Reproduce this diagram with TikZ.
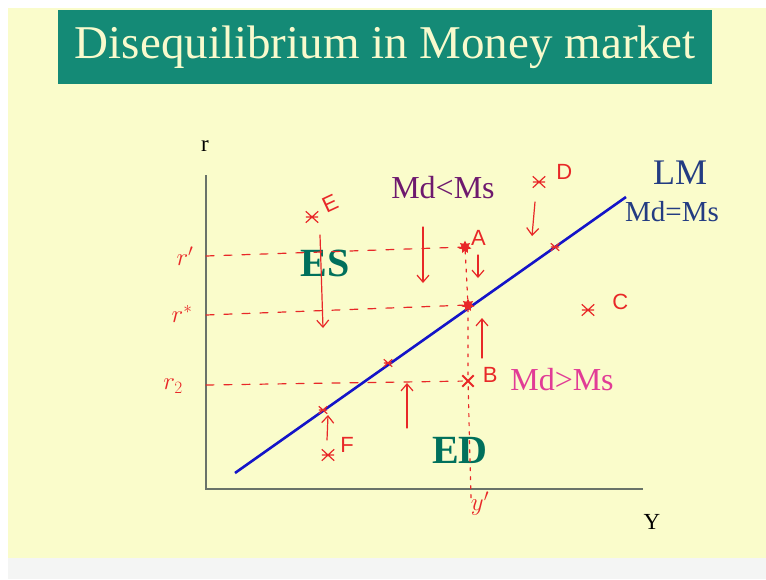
\documentclass[tikz,border=0pt]{standalone}
\usepackage{fontspec}
\setmainfont{Liberation Serif}
\setsansfont{Liberation Sans}
\usetikzlibrary{arrows.meta, positioning, shapes.geometric}
\definecolor{slidebg}{RGB}{250,252,203}
\definecolor{stripgrey}{RGB}{244,245,244}
\definecolor{titleteal}{RGB}{20,138,118}
\definecolor{titletext}{RGB}{248,250,205}
\definecolor{axisgrey}{RGB}{105,115,105}
\definecolor{lmblue}{RGB}{20,20,200}
\definecolor{lmtext}{RGB}{35,60,130}
\definecolor{mdpurple}{RGB}{110,25,110}
\definecolor{mdpink}{RGB}{225,60,150}
\definecolor{esteal}{RGB}{0,112,92}
\definecolor{pen}{RGB}{232,40,40}

\begin{document}
\begin{tikzpicture}[x=1pt, y=-1pt,
  hand/.style={draw=pen, line width=1.2pt, line cap=round},
  guide/.style={hand, dash pattern=on 8pt off 10pt},
  drop/.style={hand, dash pattern=on 3pt off 6pt},
  ar/.style={hand, -{Straight Barb[length=7pt, width=12pt]}},
  ast/.style={rectangle, minimum width=12pt, minimum height=11pt, inner sep=0pt},
  tick/.style={ast, minimum width=8pt, minimum height=7pt},
  blot/.style={star, star points=7, star point ratio=1.8, fill=pen, minimum size=13pt, inner sep=0pt},
  lbl/.style={text=pen, font=\sffamily\fontsize{22}{22}\selectfont, inner sep=0pt},
  lvl/.style={text=pen, font=\fontsize{24}{24}\selectfont, inner sep=0pt},
  big/.style={font=\bfseries\fontsize{40}{40}\selectfont, text=esteal, inner sep=0pt},
  md/.style={font=\fontsize{32}{32}\selectfont, inner sep=0pt}]
\useasboundingbox (0,0) rectangle (766,579);
% slide
\fill[white] (0,0) rectangle (766,579);
\fill[slidebg] (8,8) rectangle (766,558);
\fill[stripgrey] (8,558) rectangle (766,579);
\node[fill=titleteal, text=titletext, minimum width=654pt, minimum height=74pt,
  inner sep=0pt, font=\fontsize{47}{47}\selectfont] (title) at (385,47) {Disequilibrium in Money market};

% axes
\coordinate (rtop) at (206,175);
\coordinate (O) at (206,489);
\coordinate (yend) at (643,489);
\draw[axisgrey, line width=1.2pt] (rtop) -- (O) -- (yend);
\node[font=\fontsize{23}{23}\selectfont] (rlab) at (205,146) {r};
\node[font=\fontsize{23}{23}\selectfont] (ylab) at (652,522) {Y};

% LM curve
\coordinate (lm0) at (235,473);
\coordinate (lm1) at (626,197);
\draw[lmblue, line width=2.6pt] (lm0) -- (lm1);
\node[text=lmtext, font=\fontsize{36}{36}\selectfont, inner sep=0pt] (lm) at (680,173) {LM};
\node[text=lmtext, font=\fontsize{29}{29}\selectfont, inner sep=0pt] (eq) at (672,212) {Md=Ms};
\node[md, text=mdpurple] (less) at (443,188) {Md<Ms};
\node[md, text=mdpink] (more) at (562,380) {Md>Ms};
\node[big] (es) at (325,263) {ES};
\node[big] (ed) at (460,450) {ED};

% rate levels
\coordinate (r1) at (206,256);
\coordinate (r0) at (206,315);
\coordinate (r2) at (206,385);
\node[lvl] (r1lab) at (185,256) {$r'$};
\node[lvl] (r0lab) at (182,314) {$r^{*}$};
\node[lvl] (r2lab) at (173,386) {$r_{2}$};

% points
\node[blot] (A) at (465,247) {};
\node[blot] (rs) at (468,305) {};
\node[ast, minimum size=11pt] (B) at (468,381) {};
\draw[pen, line width=2pt] (B.north west) -- (B.south east) (B.north east) -- (B.south west);
\node[ast] (E) at (312,217) {};
\node[ast] (D) at (539,182) {};
\node[ast] (C) at (588,310) {};
\node[ast] (F) at (328,455) {};
\node[tick] (t1) at (555,247) {};
\node[tick] (t2) at (388,363) {};
\node[tick] (t3) at (323,410) {};
\foreach \p in {E,D,C,F,t1,t2,t3}
  \draw[pen, line width=1.2pt] (\p.north west) -- (\p.south east)
    (\p.north east) -- (\p.south west) (\p.west) -- (\p.east);
\node[lbl, right=1pt of A, yshift=9pt] (Alab) {A};
\node[lbl, right=9pt of B, yshift=6pt] (Blab) {B};
\node[lbl, right=18pt of C, yshift=8pt] (Clab) {C};
\node[lbl, right=11pt of D, yshift=10pt] (Dlab) {D};
\node[lbl, right=5pt of E, yshift=10pt, rotate=25] (Elab) {E};
\node[lbl, right=6pt of F, yshift=10pt] (Flab) {F};
\coordinate (yp) at (471,498);
\node[lvl] (yplab) at (480,504) {$y'$};

% dashed guides
\draw[guide] (r1) -- (A);
\draw[guide] (r0) -- (rs);
\draw[guide] (r2) -- (B);
\draw[drop] (A) -- (rs) -- (B) -- (yp);

% adjustment arrows
\coordinate (es0) at (320,235);  \coordinate (es1) at (323,328);
\coordinate (ls0) at (423,227);  \coordinate (ls1) at (423,283);
\coordinate (a0) at (478,255);   \coordinate (a1) at (478,278);
\coordinate (d0) at (535,202);   \coordinate (d1) at (532,236);
\coordinate (b0) at (482,358);   \coordinate (b1) at (482,318);
\coordinate (m0) at (407,428);   \coordinate (m1) at (407,383);
\coordinate (f0) at (327,440);   \coordinate (f1) at (328,415);
\draw[ar] (es0) -- (es1);
\draw[ar] (ls0) -- (ls1);
\draw[ar] (a0) -- (a1);
\draw[ar] (d0) -- (d1);
\draw[ar] (b0) -- (b1);
\draw[ar] (m0) -- (m1);
\draw[ar] (f0) -- (f1);
\end{tikzpicture}
\end{document}
